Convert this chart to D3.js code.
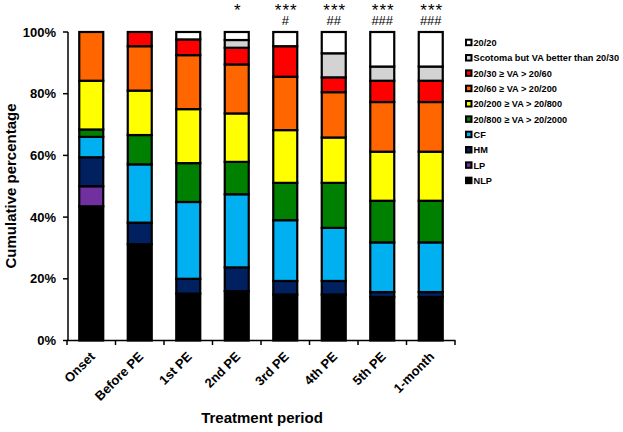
<!DOCTYPE html>
<html><head><meta charset="utf-8">
<script src="https://cdn.jsdelivr.net/npm/d3@7"></script>
<style>body{margin:0;background:#fff}svg{display:block;font-family:Arial,"Liberation Sans",sans-serif}</style>
</head><body><svg id="c" width="623" height="432"></svg>
<script>
const categories = ["Onset","Before PE","1st PE","2nd PE","3rd PE","4th PE","5th PE","1-month"];
const seriesNames = ["NLP","LP","HM","CF","20/800 \u2265 VA > 20/2000","20/200 \u2265 VA > 20/800","20/60 \u2265 VA > 20/200","20/30 \u2265 VA > 20/60","Scotoma but VA better than 20/30","20/20"];
const seriesColors = ["#000000","#7030A0","#002060","#00B0F0","#008000","#FFFF00","#FF6600","#FF0000","#D3D3D3","#FFFFFF"];
// percentages per category, bottom (NLP) to top (20/20)
const NLP      = [43.5, 31.2, 15.2, 16.0, 14.9, 14.9, 14.1, 14.1];
const LP       = [ 6.5,  0.0,  0.0,  0.0,  0.0,  0.0,  0.0,  0.0];
const HM       = [ 9.4,  7.0,  4.8,  7.7,  4.4,  4.4,  1.6,  1.6];
const CF       = [ 6.6, 18.9, 24.9, 23.7, 19.7, 17.2, 16.1, 16.1];
const VA800    = [ 2.4,  9.5, 12.6, 10.5, 12.1, 14.6, 13.5, 13.5];
const VA200    = [15.8, 14.4, 17.5, 15.7, 17.1, 14.7, 15.9, 15.9];
const VA60     = [15.8, 14.4, 17.5, 15.9, 17.3, 14.7, 16.1, 16.1];
const VA30     = [ 0.0,  4.6,  5.1,  5.4,  9.9,  4.8,  6.9,  6.9];
const Scotoma  = [ 0.0,  0.0,  0.0,  2.5,  0.0,  7.8,  4.6,  4.6];
const VA20     = [ 0.0,  0.0,  2.4,  2.6,  4.6,  6.9, 11.2, 11.2];
const seriesValues = [NLP, LP, HM, CF, VA800, VA200, VA60, VA30, Scotoma, VA20];
const starLabels = ["","","","*","***","***","***","***"];
const hashLabels = ["","","","","#","##","###","###"];
const yTicks = [0,20,40,60,80,100];

const svg = d3.select("#c");
const x = d3.scaleBand().domain(categories).range([67,455]).paddingInner(0).paddingOuter(0);
const y = d3.scaleLinear().domain([0,100]).range([340.5,32]);
const barW = 24;

// stacked data
const table = categories.map((c,i)=>{const o={cat:c}; seriesNames.forEach((s,j)=>o[s]=seriesValues[j][i]); return o;});
const stack = d3.stack().keys(seriesNames)(table);

const gBars = svg.append("g");
stack.forEach((layer,j)=>{
  gBars.selectAll(null).data(layer.filter(d=>d[1]-d[0]>0.01)).enter().append("rect")
    .attr("x", d=>x(d.data.cat)+x.bandwidth()/2-barW/2)
    .attr("width", barW)
    .attr("y", d=>y(d[1]))
    .attr("height", d=>y(d[0])-y(d[1]))
    .attr("fill", seriesColors[j])
    .attr("stroke","#000").attr("stroke-width",2.2);
});

// y axis
const gy = svg.append("g");
gy.append("line").attr("x1",68).attr("x2",68).attr("y1",y(100)).attr("y2",y(0)).attr("stroke","#000").attr("stroke-width",1.5);
yTicks.forEach(t=>{
  gy.append("line").attr("x1",63).attr("x2",68).attr("y1",y(t)).attr("y2",y(t)).attr("stroke","#000").attr("stroke-width",1.5);
  gy.append("text").attr("x",56).attr("y",y(t)).attr("dy","0.36em").attr("text-anchor","end")
    .attr("font-size",13).attr("font-weight","bold").text(t+"%");
});
// x axis
const gx = svg.append("g");
gx.append("line").attr("x1",67).attr("x2",455.5).attr("y1",y(0)).attr("y2",y(0)).attr("stroke","#000").attr("stroke-width",1.5);
categories.concat(["__end"]).forEach((c,i)=>{
  const xx = i<categories.length ? x(c) : x(categories[categories.length-1])+x.bandwidth();
  gx.append("line").attr("x1",xx).attr("x2",xx).attr("y1",y(0)).attr("y2",y(0)+4.5).attr("stroke","#000").attr("stroke-width",1.5);
});
categories.forEach(c=>{
  const cx = x(c)+x.bandwidth()/2-2, cy = 351;
  gx.append("text").attr("transform",`translate(${cx},${cy}) rotate(-45)`).attr("text-anchor","end")
    .attr("dy","0.7em").attr("font-size",13).attr("font-weight","bold").text(c);
});

// significance marks (one text element per category, two lines)
categories.forEach((c,i)=>{
  const cx = x(c)+x.bandwidth()/2;
  if(!starLabels[i] && !hashLabels[i]) return;
  const t = svg.append("text").attr("text-anchor","middle");
  t.append("tspan").attr("x",cx+1).attr("y",16).attr("font-size",17).attr("letter-spacing",1).text(starLabels[i]);
  if(hashLabels[i]) t.append("tspan").attr("x",cx).attr("y",24.5).attr("font-size",13).text(hashLabels[i]);
});

// axis titles
svg.append("text").attr("transform","translate(16,186) rotate(-90)").attr("text-anchor","middle")
  .attr("font-size",15).attr("font-weight","bold").text("Cumulative percentage");
svg.append("text").attr("x",262).attr("y",423).attr("text-anchor","middle")
  .attr("font-size",15).attr("font-weight","bold").text("Treatment period");

// legend
const legendOrder = seriesNames.map((s,j)=>j).reverse();
const lg = svg.append("g");
legendOrder.forEach((j,k)=>{
  const ly = 42.7 + k*15.33;
  lg.append("rect").attr("x",466).attr("y",ly-3).attr("width",5.5).attr("height",5.5)
    .attr("fill",seriesColors[j]).attr("stroke","#000").attr("stroke-width",2);
  lg.append("text").attr("x",473.5).attr("y",ly).attr("dy","0.35em").attr("font-size",9.2)
    .attr("font-weight","bold").text(seriesNames[j]);
});
</script></body></html>
